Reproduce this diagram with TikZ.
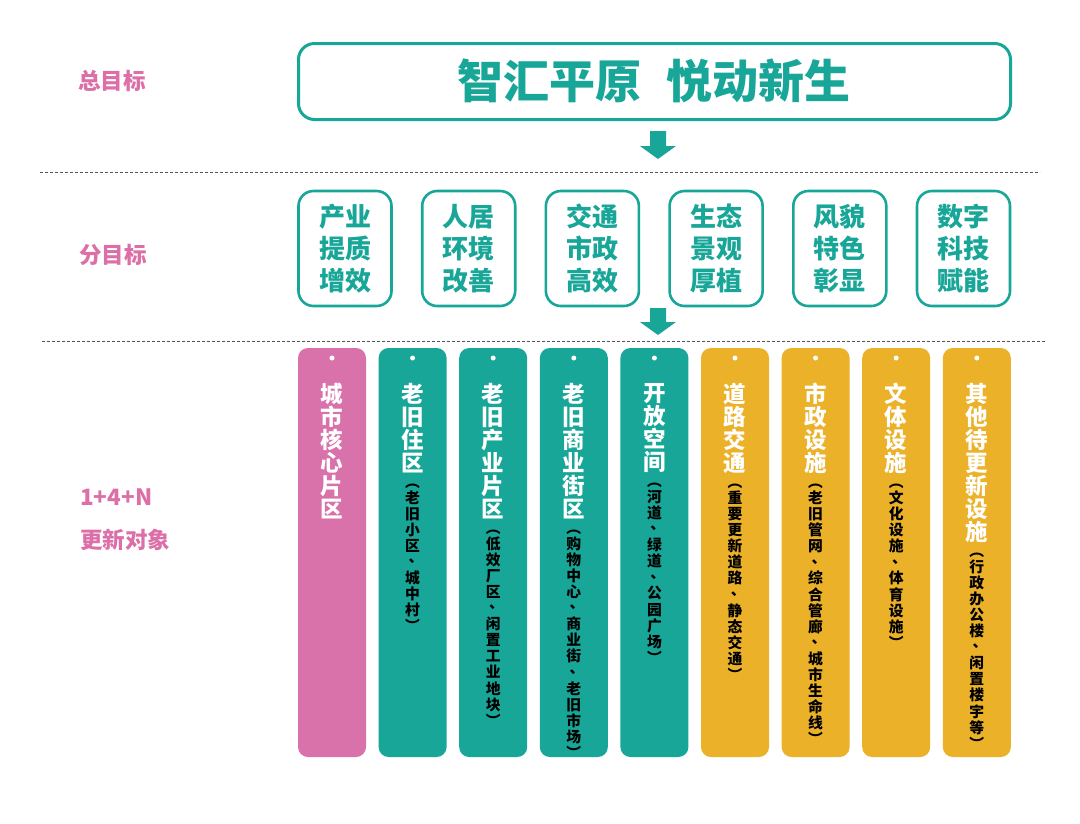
\documentclass[tikz,border=0pt]{standalone}
\usepackage{fontspec}
\setmainfont{Noto Sans CJK SC}
\definecolor{tealc}{HTML}{17A697}
\definecolor{pinkc}{HTML}{D972AB}
\definecolor{goldc}{HTML}{EBB128}
\definecolor{labpink}{HTML}{DC6FA7}
\definecolor{dashc}{HTML}{555555}
\ExplSyntaxOn
\tl_new:N \l_my_chars_tl
\seq_new:N \l_my_chars_seq
\cs_new_protected:Npn \my_item:n #1
  {
    \str_if_eq:nnTF {#1} {、}
      { \raisebox{0.32em}{\kern0.45em 、} }
      { #1 }
    \vphantom{国}
  }
\NewDocumentCommand{\vchars}{m}{
  \tl_set:Nx \l_my_chars_tl {#1}
  \seq_clear:N \l_my_chars_seq
  \tl_map_inline:Nn \l_my_chars_tl { \seq_put_right:Nn \l_my_chars_seq { \my_item:n {##1} } }
  \seq_use:Nn \l_my_chars_seq { \\ }
}
\ExplSyntaxOff
\tikzset{
  goalbox/.style={draw=tealc, line width=3pt, rounded corners=16pt, fill=white,
    minimum width=712pt, minimum height=76pt, inner sep=0pt},
  subbox/.style={draw=tealc, line width=2.6pt, rounded corners=15pt, fill=white,
    minimum width=93pt, minimum height=115pt, inner sep=0pt, align=center,
    text=tealc, font=\fontsize{26}{32}\selectfont\bfseries},
  bar/.style={rounded corners=10pt, minimum width=68pt, minimum height=409pt, inner sep=0pt},
  maintext/.style={anchor=north, inner sep=0pt, align=center, text=white,
    font=\fontsize{22.5}{23}\selectfont\bfseries},
  subtext/.style={anchor=north, inner sep=0pt, align=center, text=black,
    font=\fontsize{14.8}{16.1}\selectfont\bfseries},
  sidelabel/.style={text=labpink, font=\fontsize{22.5}{26}\selectfont\bfseries, inner sep=0pt},
  dashline/.style={dashc, line width=0.8pt, dash pattern=on 3pt off 2pt},
  bigarrow/.style={fill=tealc},
  holedot/.style={circle, fill=white, minimum size=5pt, inner sep=0pt}
}
\begin{document}
\begin{tikzpicture}[x=1pt,y=-1pt]
\useasboundingbox (0,0) rectangle (1080,823);
\fill[white] (0,0) rectangle (1080,823);

% side labels
\node[sidelabel] (l1) at (112,81) {总目标};
\node[sidelabel] (l2) at (113,255) {分目标};
\node[sidelabel, anchor=west] (l3) at (80,497) {1+4+N};
\node[sidelabel, anchor=west] (l4) at (80,540) {更新对象};

% top goal
\node[goalbox] (goal) at (654.5,81.5) {};
\node[text=tealc, font=\fontsize{46}{46}\selectfont\bfseries, inner sep=0pt] (title) at (654,81)
  {智汇平原\hspace{26pt}悦动新生};

% arrow 1
\fill[bigarrow] (650,131) -- (666,131) -- (666,146) -- (676,146) -- (658,159) -- (640,146) -- (650,146) -- cycle;
% dashed line 1
\coordinate (d1a) at (40,172);
\coordinate (d1b) at (1040,172);
\draw[dashline] (d1a) -- (d1b);

% sub goals
\node[subbox] (g1) at (345.0,248.5) {产业\\提质\\增效};
\node[subbox] (g2) at (468.7,248.5) {人居\\环境\\改善};
\node[subbox] (g3) at (592.4,248.5) {交通\\市政\\高效};
\node[subbox] (g4) at (716.1,248.5) {生态\\景观\\厚植};
\node[subbox] (g5) at (839.8,248.5) {风貌\\特色\\彰显};
\node[subbox] (g6) at (963.5,248.5) {数字\\科技\\赋能};

% arrow 2
\fill[bigarrow] (650,308) -- (666,308) -- (666,322) -- (676,322) -- (658,335) -- (640,322) -- (650,322) -- cycle;
% dashed line 2
\coordinate (d2a) at (42,341);
\coordinate (d2b) at (1045,341);
\draw[dashline] (d2a) -- (d2b);

% bars
\foreach \i/\col/\main/\sub in {
  0/pinkc/城市核心片区/,
  1/tealc/老旧住区/︵老旧小区、城中村︶,
  2/tealc/老旧产业片区/︵低效厂区、闲置工业地块︶,
  3/tealc/老旧商业街区/︵购物中心、商业街、老旧市场︶,
  4/tealc/开放空间/︵河道、绿道、公园广场︶,
  5/goldc/道路交通/︵重要更新道路、静态交通︶,
  6/goldc/市政设施/︵老旧管网、综合管廊、城市生命线︶,
  7/goldc/文体设施/︵文化设施、体育设施︶,
  8/goldc/其他待更新设施/︵行政办公楼、闲置楼宇等︶}{
  \pgfmathsetmacro{\cx}{332+80.6*\i}
  \node[bar, fill=\col] (b\i) at (\cx,552.5) {};
  \node[holedot] (h\i) at (\cx,358) {};
  \node[maintext] (m\i) at (\cx,383) {\vchars{\main}};
  \node[subtext] (s\i) at ([yshift=-1pt]m\i.south) {\vchars{\sub}};
}
\end{tikzpicture}
\end{document}
